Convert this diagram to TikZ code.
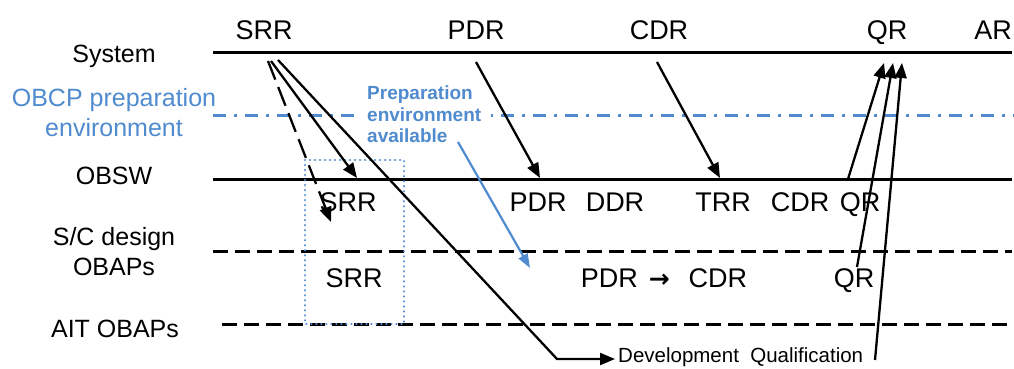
\documentclass[tikz,border=0pt]{standalone}
\usepackage{fontspec}
\setmainfont{Liberation Sans}
\newfontfamily\arrowfont{DejaVu Sans}
\usetikzlibrary{
  arrows.meta,
  positioning
}
\definecolor{obcpcolor}{RGB}{79, 139, 206}
\definecolor{labelcolor}{RGB}{0, 0, 0}
\tikzset{
rowlabel/.style={
  font=\fontsize{25}{30}\selectfont,
  align=center,
  text=labelcolor,
  inner sep=0pt
},
milestone/.style={
  font=\fontsize{27}{32}\selectfont,
  text=labelcolor,
  anchor=base,
  inner sep=0pt
},
solidline/.style={
  line width=3pt,
  draw=labelcolor
},
dashline/.style={
  line width=3pt,
  draw=labelcolor,
  dash pattern=on 15pt off 7pt
},
obcpline/.style={
  line width=3pt,
  draw=obcpcolor,
  dash pattern=on 13pt off 8pt on 3pt off 8pt
},
arr/.style={
  -{Triangle[length=15pt,width=12pt]},
  line width=2.3pt,
  draw=labelcolor
},
dasharr/.style={
  arr,
  dash pattern=on 20pt off 8pt
}
}

\begin{document}
\begin{tikzpicture}[
      x=1pt, y=-1pt,
      blockarr/.style={-{Triangle[length=14pt,width=10pt]}, line width=2.2pt, draw=obcpcolor},
      prepbox/.style={draw=obcpcolor, line width=2.6pt, line cap=round, dash pattern=on 0.01pt off 5pt},
      notelabel/.style={font=\bfseries\fontsize{19}{21.5}\selectfont, text=obcpcolor,
        align=left, fill=white, inner xsep=10pt, inner ysep=0pt}
    ]
      \useasboundingbox (0,0) rectangle (1014,368);

      % Row labels
      \node[rowlabel, anchor=base] (lsys) at (114,62) {System};
      \node[rowlabel, text=obcpcolor] (lobcp) at (114,113) {OBCP preparation\\environment};
      \node[rowlabel, anchor=base] (lobsw) at (114,184) {OBSW};
      \node[rowlabel] (lsc) at (114,252) {S/C design\\OBAPs};
      \node[rowlabel, anchor=base] (lait) at (115,337) {AIT OBAPs};

      % Time lines
      \draw[solidline] (213,52) -- (1012,52);
      \draw[obcpline] (213,115) -- (1014,115);
      \draw[solidline] (213,179) -- (1012,179);
      \draw[dashline] (213,251) -- (1012,251);
      \draw[dashline] (222,324) -- (1012,324);

      % SRR window
      \draw[prepbox] (305,160) rectangle (404,324);

      \node[notelabel, anchor=west] (prep) at (357,114.5) {Preparation\\environment\\available};

      % System reviews
      \node[milestone] (sSRR) at (264,39) {SRR};
      \node[milestone] (sPDR) at (476,39) {PDR};
      \node[milestone] (sCDR) at (659,39) {CDR};
      \node[milestone] (sQR) at (887,39) {QR};
      \node[milestone] (sAR) at (993,39) {AR};

      % OBSW reviews
      \node[milestone] (oSRR) at (348,211) {SRR};
      \node[milestone] (oPDR) at (538,211) {PDR};
      \node[milestone] (oDDR) at (615,211) {DDR};
      \node[milestone] (oTRR) at (723,211) {TRR};
      \node[milestone] (oCDR) at (800,211) {CDR};
      \node[milestone] (oQR) at (860,211) {QR};

      % OBAP reviews
      \node[milestone] (bSRR) at (354,287) {SRR};
      \node[milestone] (bPDR) at (664,287)
        {PDR\hspace{11pt}{\arrowfont\bfseries\fontsize{25}{28}\selectfont →}\hspace{19pt}CDR};
      \node[milestone] (bQR) at (854,287) {QR};

      \node[font=\fontsize{20.5}{24}\selectfont, anchor=base west, inner sep=3pt] (qual)
        at (615,362) {Development~~Qualification};

      % Arrow end points
      \coordinate (srrA) at (268,61);
      \coordinate (srrB) at (271,61);
      \coordinate (srrC) at (278,60);
      \coordinate (dashend) at (331,222);
      \coordinate (obswsrr) at (357,178);
      \coordinate (bend) at (557,359);
      \coordinate (pdrA) at (476,62);
      \coordinate (pdrB) at (540,178);
      \coordinate (cdrA) at (657,62);
      \coordinate (cdrB) at (720,178);
      \coordinate (qrA) at (884,63);
      \coordinate (qrB) at (893,63);
      \coordinate (qrC) at (902,63);
      \coordinate (obswqr) at (848,179);
      \coordinate (obapqr) at (857,267);
      \coordinate (qualqr) at (875,360);
      \coordinate (prepA) at (458,142);
      \coordinate (prepB) at (530,268);

      % Arrows from system SRR
      \draw[dasharr] (srrA) -- (dashend);
      \draw[arr] (srrB) -- (obswsrr);
      \draw[arr] (srrC) -- (bend) -- (bend -| qual.west);

      % Arrows from PDR and CDR
      \draw[arr] (pdrA) -- (pdrB);
      \draw[arr] (cdrA) -- (cdrB);

      % Arrows to QR
      \draw[arr] (obswqr) -- (qrA);
      \draw[arr] (obapqr) -- (qrB);
      \draw[arr] (qualqr) -- (qrC);

      % Preparation environment
      \draw[blockarr] (prepA) -- (prepB);
    \end{tikzpicture}
\end{document}
